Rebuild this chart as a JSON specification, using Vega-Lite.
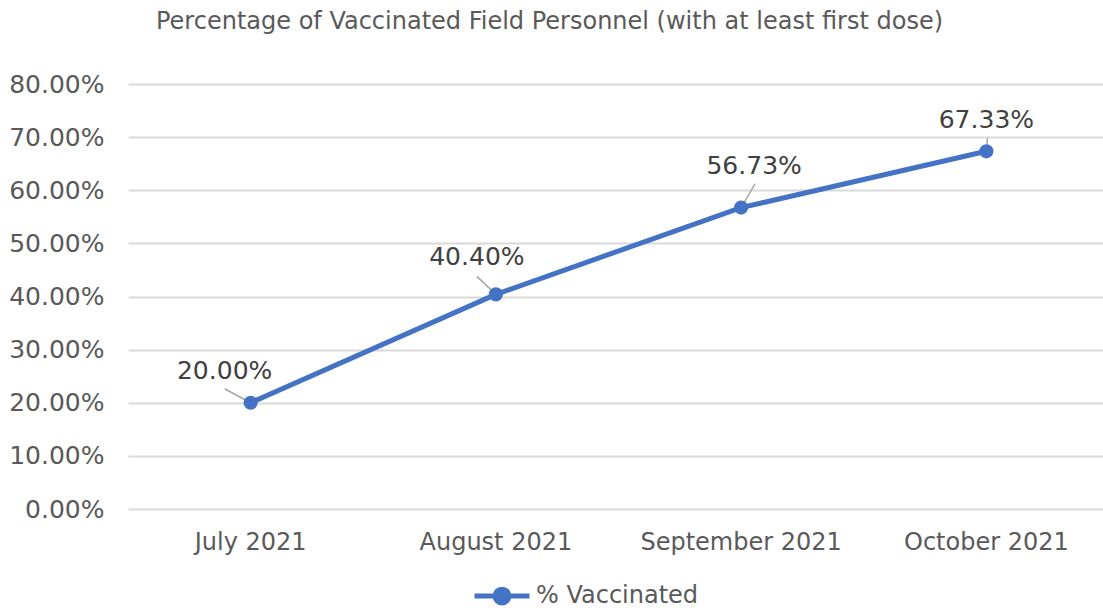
{
  "$schema": "https://vega.github.io/schema/vega-lite/v6.json",
  "width": 981,
  "height": 425,
  "autosize": {"type": "none"},
  "padding": {"left": 128, "top": 84, "right": 0, "bottom": 99},
  "background": "white",
  "config": {"font": "DejaVu Sans", "view": {"stroke": null}},
  "title": {
    "text": "Percentage of Vaccinated Field Personnel (with at least first dose)",
    "fontSize": 24, "fontWeight": "normal", "color": "#595959",
    "anchor": "middle", "frame": "group", "dx": -69, "offset": 19, "baseline": "alphabetic"
  },
  "data": {"values": [
    {"month": "July 2021", "value": 0.2, "series": "% Vaccinated"},
    {"month": "August 2021", "value": 0.404, "series": "% Vaccinated"},
    {"month": "September 2021", "value": 0.5673, "series": "% Vaccinated"},
    {"month": "October 2021", "value": 0.6733, "series": "% Vaccinated"}
  ]},
  "encoding": {
    "x": {"field": "month", "type": "nominal", "sort": null,
      "scale": {"paddingInner": 0, "paddingOuter": 0},
      "axis": {"title": null, "labelAngle": 0, "ticks": false, "domain": false, "labelPadding": 21,
        "labelFontSize": 24, "labelColor": "#595959", "grid": false, "labelLimit": 0}},
    "y": {"field": "value", "type": "quantitative",
      "scale": {"domain": [0, 0.8], "nice": false},
      "axis": {"title": null, "format": ".2%", "values": [0,0.1,0.2,0.3,0.4,0.5,0.6,0.7,0.8],
        "ticks": false, "domain": false, "labelPadding": 24, "labelFontSize": 25, "labelColor": "#595959",
        "gridColor": "#d9d9d9", "gridWidth": 2}}
  },
  "layer": [
    {"transform": [{"filter": "datum.month == 'July 2021'"}],
     "mark": {"type": "rule", "color": "#a6a6a6", "strokeWidth": 1.5, "x2Offset": -26, "y2Offset": -14},
     "encoding": {"x2": {"field": "month"}, "y2": {"field": "value"}}},
    {"transform": [{"filter": "datum.month == 'August 2021'"}],
     "mark": {"type": "rule", "color": "#a6a6a6", "strokeWidth": 1.5, "x2Offset": -19, "y2Offset": -18},
     "encoding": {"x2": {"field": "month"}, "y2": {"field": "value"}}},
    {"transform": [{"filter": "datum.month == 'September 2021'"}],
     "mark": {"type": "rule", "color": "#a6a6a6", "strokeWidth": 1.5, "x2Offset": 14, "y2Offset": -24},
     "encoding": {"x2": {"field": "month"}, "y2": {"field": "value"}}},
    {"transform": [{"filter": "datum.month == 'October 2021'"}],
     "mark": {"type": "rule", "color": "#a6a6a6", "strokeWidth": 1.5, "x2Offset": 1, "y2Offset": -13},
     "encoding": {"x2": {"field": "month"}, "y2": {"field": "value"}}},
    {"mark": {"type": "line", "strokeWidth": 5, "strokeCap": "round"},
     "encoding": {"color": {"field": "series", "type": "nominal",
       "scale": {"range": ["#4472C4"]},
       "legend": {"title": null, "orient": "none", "legendX": 344, "legendY": 482, "padding": 0,
         "symbolType": "M-1,0H1M0.25,0A0.25,0.25,0,1,1,-0.25,0A0.25,0.25,0,1,1,0.25,0",
         "symbolSize": 3025, "symbolStrokeWidth": 5, "labelFontSize": 24, "labelColor": "#595959",
         "labelOffset": 4, "labelLimit": 0,
         "encode": {"symbols": {"update": {"fill": {"value": "#4472C4"}, "stroke": {"value": "#4472C4"}, "strokeWidth": {"value": 5}}}}}}}},
    {"mark": {"type": "point", "filled": true, "size": 200, "opacity": 1, "color": "#4472C4"}},
    {"transform": [{"filter": "datum.month == 'July 2021'"}],
     "mark": {"type": "text", "fontSize": 25, "color": "#404040", "dx": -26, "dy": -32, "baseline": "middle"},
     "encoding": {"text": {"field": "value", "format": ".2%"}}},
    {"transform": [{"filter": "datum.month == 'August 2021'"}],
     "mark": {"type": "text", "fontSize": 25, "color": "#404040", "dx": -19, "dy": -37, "baseline": "middle"},
     "encoding": {"text": {"field": "value", "format": ".2%"}}},
    {"transform": [{"filter": "datum.month == 'September 2021'"}],
     "mark": {"type": "text", "fontSize": 25, "color": "#404040", "dx": 13, "dy": -42, "baseline": "middle"},
     "encoding": {"text": {"field": "value", "format": ".2%"}}},
    {"transform": [{"filter": "datum.month == 'October 2021'"}],
     "mark": {"type": "text", "fontSize": 25, "color": "#404040", "dx": 0, "dy": -31, "baseline": "middle"},
     "encoding": {"text": {"field": "value", "format": ".2%"}}}
  ]
}
